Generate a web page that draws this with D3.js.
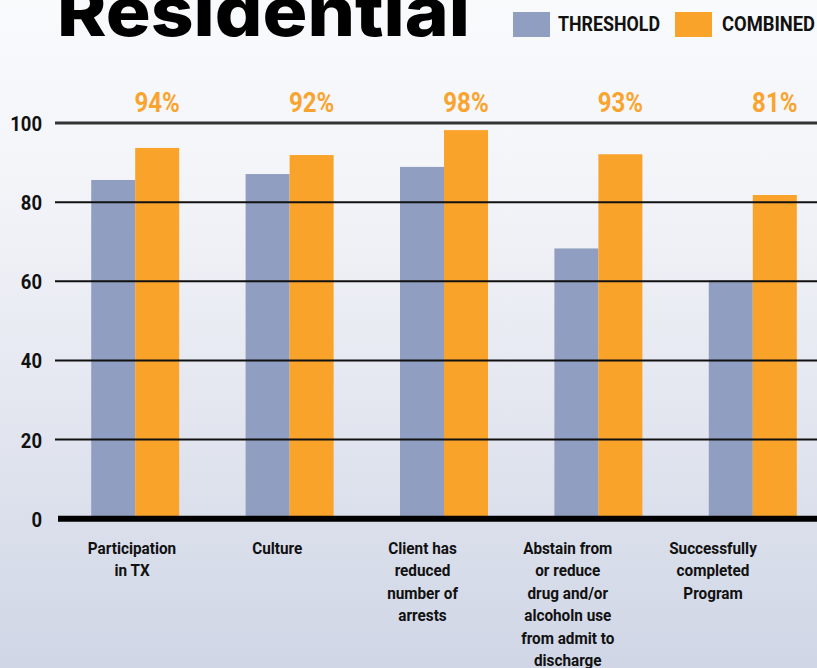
<!DOCTYPE html>
<html>
<head>
<meta charset="utf-8">
<script src="https://cdn.jsdelivr.net/npm/d3@7"></script>
<style>
  html, body { margin: 0; padding: 0; background: #f9fafc; }
  svg { display: block; }
  .cond { font-family: Roboto, "Liberation Sans", sans-serif; font-weight: 700; }
</style>
</head>
<body>
<svg id="chart" width="817" height="668"></svg>
<script>
const title = "Residential";
const categories = ["Participation in TX", "Culture", "Client has reduced number of arrests", "Abstain from or reduce drug and/or alcoholn use from admit to discharge", "Successfully completed Program"];
const categoryLines = [
  ["Participation", "in TX"],
  ["Culture"],
  ["Client has", "reduced", "number of", "arrests"],
  ["Abstain from", "or reduce", "drug and/or", "alcoholn use", "from admit to", "discharge"],
  ["Successfully", "completed", "Program"]
];
const seriesNames = ["THRESHOLD", "COMBINED"];
const thresholdValues = [85.6, 87.1, 88.9, 68.3, 60.2];
const combinedValues = [93.7, 91.9, 98.2, 92.1, 81.8];
const combinedLabels = ["94%", "92%", "98%", "93%", "81%"];
const yTicks = [0, 20, 40, 60, 80, 100];
const colors = ["#909fc1", "#f9a32a"];

const W = 817, H = 668;
const svg = d3.select("#chart");

// background gradient
const defs = svg.append("defs");
const grad = defs.append("linearGradient").attr("id", "bg").attr("x1", 0).attr("y1", 0).attr("x2", 0).attr("y2", 1);
grad.append("stop").attr("offset", "0%").attr("stop-color", "#f9fafc");
grad.append("stop").attr("offset", "25%").attr("stop-color", "#f4f5f9");
grad.append("stop").attr("offset", "60%").attr("stop-color", "#e4e7f0");
grad.append("stop").attr("offset", "100%").attr("stop-color", "#d0d6e6");
svg.append("rect").attr("width", W).attr("height", H).attr("fill", "url(#bg)");

// scales
const y = d3.scaleLinear().domain([0, 100]).range([518.7, 123]);
const x0 = d3.scaleBand().domain(categories).range([58, 830]).paddingInner(0.43).paddingOuter(0.215);
const x1 = d3.scaleBand().domain(seriesNames).range([0, x0.bandwidth()]);
const xLabel = d3.scalePoint().domain(categories).range([132, 713]);

const data = categories.map((c, i) => ({ cat: c, values: [thresholdValues[i], combinedValues[i]], label: combinedLabels[i], lines: categoryLines[i] }));

// bars
const groups = svg.append("g").selectAll("g").data(data).join("g")
  .attr("transform", d => `translate(${x0(d.cat)},0)`);
groups.selectAll("rect").data(d => d.values.map((v, k) => ({ key: seriesNames[k], v, k })))
  .join("rect")
  .attr("x", d => x1(d.key))
  .attr("y", d => y(d.v))
  .attr("width", x1.bandwidth())
  .attr("height", d => y(0) - y(d.v))
  .attr("fill", d => colors[d.k]);

// gridlines (on top of bars)
const grid = svg.append("g");
grid.selectAll("line").data(yTicks.filter(t => t > 0)).join("line")
  .attr("x1", 55).attr("x2", W)
  .attr("y1", d => y(d)).attr("y2", d => y(d))
  .attr("stroke", d => d === 100 ? "#333" : "#111")
  .attr("stroke-width", d => d === 100 ? 3 : 2);

// baseline
svg.append("line").attr("x1", 58).attr("x2", W).attr("y1", y(0)).attr("y2", y(0))
  .attr("stroke", "#000").attr("stroke-width", 6);

// y axis labels via d3 axis
const yAxis = d3.axisLeft(y).tickValues(yTicks).tickSize(0).tickPadding(0);
const yg = svg.append("g").attr("transform", "translate(42,0)").call(yAxis);
yg.select(".domain").remove();
yg.selectAll(".tick text")
  .attr("class", "cond").attr("font-size", 21).attr("fill", "#111")
  .attr("text-anchor", "end").attr("x", 0).attr("dy", "0.36em")
  .attr("transform", "scale(0.88,1)");

// percent labels
svg.append("g").selectAll("text").data(data).join("text")
  .attr("class", "cond")
  .attr("transform", d => `translate(${x0(d.cat) + x1("COMBINED") + x1.bandwidth() / 2},112) scale(0.86,1)`)
  .attr("text-anchor", "middle")
  .attr("font-size", 28)
  .attr("fill", "#f9a42f")
  .text(d => d.label);

// category labels
const cl = svg.append("g").selectAll("text").data(data).join("text")
  .attr("class", "cond")
  .attr("text-anchor", "middle")
  .attr("font-size", 17)
  .attr("fill", "#111")
  .attr("transform", d => `translate(${xLabel(d.cat)},554) scale(0.9,1)`);
cl.selectAll("tspan").data(d => d.lines).join("tspan")
  .attr("x", 0)
  .attr("dy", (d, i) => i === 0 ? 0 : 22.5)
  .text(d => d);

// title
svg.append("text")
  .attr("x", 57).attr("y", 36)
  .attr("font-family", "Inter, 'DejaVu Sans', sans-serif")
  .attr("font-weight", 800)
  .attr("font-size", 68)
  .attr("fill", "#000")
  .attr("textLength", 413)
  .attr("lengthAdjust", "spacingAndGlyphs")
  .text(title);

// legend
const legendX = [513, 675];
const legendTextX = [558, 722];
const legendTextW = [102, 93];
const legend = svg.append("g").selectAll("g").data(seriesNames).join("g");
legend.append("rect")
  .attr("x", (d, i) => legendX[i]).attr("y", 12)
  .attr("width", 37).attr("height", 25).attr("fill", (d, i) => colors[i]);
legend.append("text").attr("class", "cond")
  .attr("x", (d, i) => legendTextX[i])
  .attr("y", 31)
  .attr("font-size", 21)
  .attr("fill", "#111")
  .attr("textLength", (d, i) => legendTextW[i])
  .attr("lengthAdjust", "spacingAndGlyphs")
  .text(d => d);
</script>
</body>
</html>
